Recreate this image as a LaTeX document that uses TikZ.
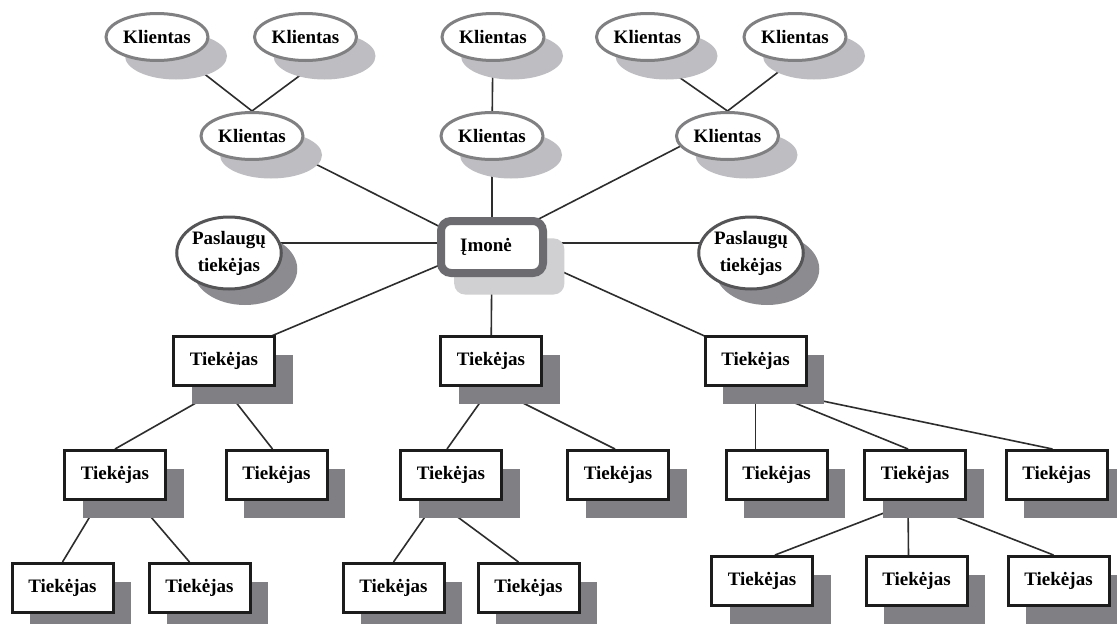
\documentclass[tikz,border=0pt]{standalone}
\usepackage{fontspec}
\setmainfont{Liberation Serif}
\usetikzlibrary{shapes.geometric,shadows,backgrounds,calc}
\definecolor{ellline}{RGB}{128,128,130}
\definecolor{ellshadow}{RGB}{190,190,194}
\definecolor{svcline}{RGB}{85,85,88}
\definecolor{svcshadow}{RGB}{140,140,144}
\definecolor{coline}{RGB}{108,108,112}
\definecolor{coshadow}{RGB}{208,208,210}
\definecolor{boxline}{RGB}{28,28,28}
\definecolor{boxshadow}{RGB}{128,128,132}
\definecolor{linkcol}{RGB}{45,45,45}
\begin{document}
\begin{tikzpicture}[x=1pt,y=-1pt,
  every node/.style={font=\fontsize{19}{27}\selectfont\bfseries, inner sep=0pt},
  klient/.style={ellipse, draw=ellline, fill=white, line width=3pt,
    minimum width=102pt, minimum height=47pt,
    drop shadow={shadow xshift=19pt, shadow yshift=-19pt, fill=ellshadow, opacity=1}},
  service/.style={ellipse, draw=svcline, fill=white, line width=3pt,
    minimum width=89pt, minimum height=72pt, align=center,
    drop shadow={shadow xshift=16pt, shadow yshift=-16pt, fill=svcshadow, opacity=1}},
  company/.style={rectangle, rounded corners=10pt, draw=coline, fill=white, line width=8pt,
    minimum width=102pt, minimum height=52pt,
    general shadow={shadow xshift=16pt, shadow yshift=-18pt, shadow scale=1.08, fill=coshadow, opacity=1}},
  supplier/.style={rectangle, draw=boxline, fill=white, line width=3pt,
    minimum width=101pt, minimum height=49pt,
    drop shadow={shadow xshift=18pt, shadow yshift=-18pt, fill=boxshadow, opacity=1}},
  link/.style={draw=linkcol, line width=1.6pt}
]
\useasboundingbox (0,0) rectangle (1117,624);
\clip (0,0) rectangle (1117,624);

% customers, outer ring
\node[klient] (k1a) at (157,37)   {Klientas};
\node[klient] (k1b) at (305.5,37) {Klientas};
\node[klient] (k1c) at (493,37)   {Klientas};
\node[klient] (k1d) at (647.5,37) {Klientas};
\node[klient] (k1e) at (795,37)   {Klientas};
% customers, inner ring
\node[klient] (k2l) at (252,136)   {Klientas};
\node[klient] (k2m) at (492,136)   {Klientas};
\node[klient] (k2r) at (727.5,136) {Klientas};
% service providers
\node[service] (pl) at (229,253) {Paslaugų\\tiekėjas};
\node[service] (pr) at (751,253) {Paslaugų\\tiekėjas};
% the company (label sits a little left of centre)
\node[company] (imone) at (492,247) {\hspace*{-12pt}Įmonė};
% first-tier suppliers
\node[supplier] (T1) at (224,361)   {Tiekėjas};
\node[supplier] (T2) at (491,361)   {Tiekėjas};
\node[supplier] (T3) at (755.5,361) {Tiekėjas};
% second-tier suppliers
\node[supplier] (R2a) at (115,475)    {Tiekėjas};
\node[supplier] (R2b) at (276.5,475)  {Tiekėjas};
\node[supplier] (R2c) at (451,475)    {Tiekėjas};
\node[supplier] (R2d) at (618,475)    {Tiekėjas};
\node[supplier] (A)   at (776.5,475)  {Tiekėjas};
\node[supplier] (B)   at (915,475)    {Tiekėjas};
\node[supplier] (C)   at (1056.5,475) {Tiekėjas};
% third-tier suppliers
\node[supplier] (R3a) at (62.5,588)  {Tiekėjas};
\node[supplier] (R3b) at (199.5,588) {Tiekėjas};
\node[supplier] (R3c) at (393.5,588) {Tiekėjas};
\node[supplier] (R3d) at (528.5,588) {Tiekėjas};
\node[supplier] (D)   at (762,581)   {Tiekėjas};
\node[supplier] (E)   at (916.5,581) {Tiekėjas};
\node[supplier] (F)   at (1058.5,581) {Tiekėjas};

\begin{pgfonlayer}{background}
\fill[white] (0,0) rectangle (1117,624);
% customer links
\draw[link] (k1a.center) -- (k2l.north);
\draw[link] ($(k1b.center)+(14,24)$) -- (k2l.north);
\draw[link] (k1c) -- (k2m);
\draw[link] ($(k1d.center)+(-26,0)$) -- (k2r.north);
\draw[link] ($(k1e.center)+(29,0)$) -- (k2r.north);
\draw[link] ($(k2l.center)+(0,-4)$) -- ($(imone.center)+(0,6)$);
\draw[link] (k2m) -- (imone);
\draw[link] ($(k2r.center)+(0,-14)$) -- ($(imone.center)+(0,-4)$);
% service provider links
\draw[link] ($(pl.center)+(0,-10)$) -- ($(imone.center)+(0,-4)$);
\draw[link] ($(pr.center)+(0,-10)$) -- ($(imone.center)+(0,-4)$);
% supplier links
\draw[link] ($(imone.center)+(0,-4)$) -- ($(T1.center)+(0,-5)$);
\draw[link] (imone) -- (T2);
\draw[link] ($(imone.center)+(0,-7)$) -- ($(T3.center)+(0,-2)$);
\draw[link] (T1.south) -- (R2a.north);
\draw[link] (T1.south) -- ($(R2b.north)+(-4,0)$);
\draw[link] (T2.south) -- ($(R2c.north)+(-4,0)$);
\draw[link] (T2.south) -- ($(R2d.north)+(-3,0)$);
\draw[link] (T3.south) -- (T3.south |- A.north);
\draw[link] (T3.south) -- ($(B.north)+(-7,0)$);
\draw[link] (T3.south) -- ($(C.north)+(-4,0)$);
\draw[link] (R2a.center) -- (R3a.north);
\draw[link] (R2a.center) -- ($(R3b.north)+(-10,0)$);
\draw[link] ($(R2c.south)+(-15,0)$) -- (R3c.north);
\draw[link] ($(R2c.south)+(-15,0)$) -- ($(R3d.north)+(-10,0)$);
\draw[link] (B.south) -- ($(D.north)+(13,0)$);
\draw[link] ($(B.south)+(-7,0)$) -- ($(E.north)+(-8,0)$);
\draw[link] (B.south) -- ($(F.north)+(-5,0)$);
\end{pgfonlayer}
\end{tikzpicture}
\end{document}
